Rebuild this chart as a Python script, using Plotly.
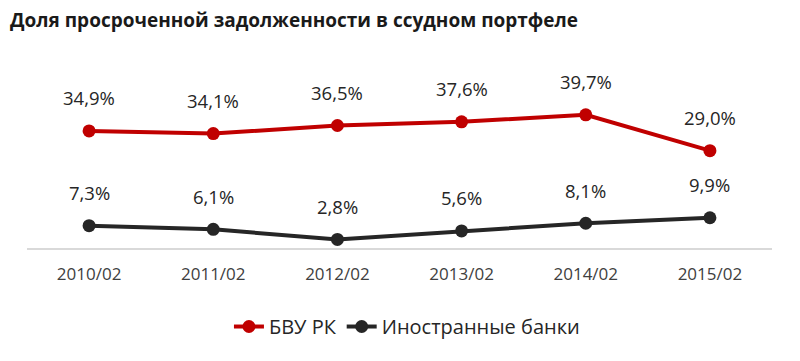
import plotly.graph_objects as go

categories = ["2010/02", "2011/02", "2012/02", "2013/02", "2014/02", "2015/02"]
bvu_values = [34.9, 34.1, 36.5, 37.6, 39.7, 29.0]
foreign_values = [7.3, 6.1, 2.8, 5.6, 8.1, 9.9]
series_names = ["БВУ РК", "Иностранные банки"]
title_text = "Доля просроченной задолженности в ссудном портфеле"

RED = "#C00000"
DARK = "#262626"
FONT = "Open Sans"

def fmt(v):
    return f"{v:.1f}".replace(".", ",") + "%"

fig = go.Figure()
fig.add_trace(go.Scatter(
    x=categories, y=bvu_values, name=series_names[0], yaxis="y2",
    mode="lines+markers", line=dict(color=RED, width=4),
    marker=dict(color=RED, size=13), cliponaxis=False))
fig.add_trace(go.Scatter(
    x=categories, y=foreign_values, name=series_names[1], yaxis="y",
    mode="lines+markers", line=dict(color=DARK, width=4),
    marker=dict(color=DARK, size=13), cliponaxis=False))

annotations = []
for c, v in zip(categories, bvu_values):
    annotations.append(dict(x=c, y=v, xref="x", yref="y2", text=fmt(v),
                            showarrow=False, yshift=33,
                            font=dict(family=FONT, size=18.5, color="#262626")))
for c, v in zip(categories, foreign_values):
    annotations.append(dict(x=c, y=v, xref="x", yref="y", text=fmt(v),
                            showarrow=False, yshift=33,
                            font=dict(family=FONT, size=18.5, color="#262626")))
annotations.append(dict(x=0, y=1, xref="paper", yref="paper", xanchor="left", yanchor="middle",
                        text="<b>" + title_text + "</b>", showarrow=False,
                        xshift=-19, yshift=77,
                        font=dict(family=FONT, size=19, color="#1a1a1a")))

fig.update_layout(
    width=792, height=353,
    margin=dict(l=19, r=28, t=89, b=113),
    paper_bgcolor="white", plot_bgcolor="white",
    showlegend=True,
    legend=dict(orientation="h", x=0.51, xanchor="center", y=-0.52, yanchor="middle",
                font=dict(family=FONT, size=20, color="#262626"),
                tracegroupgap=0),
    xaxis=dict(type="category", range=[-0.5, 5.5], showgrid=False,
               showline=True, linecolor="#D9D9D9", linewidth=2,
               ticks="outside", ticklen=10, tickcolor="rgba(0,0,0,0)",
               tickfont=dict(family=FONT, size=17, color="#404040")),
    yaxis=dict(range=[0, 49.4], visible=False, showgrid=False, zeroline=False),
    yaxis2=dict(range=[0, 45], visible=False, showgrid=False, zeroline=False,
                overlaying="y", side="right"),
    annotations=annotations,
)

fig.write_html("out.html")
